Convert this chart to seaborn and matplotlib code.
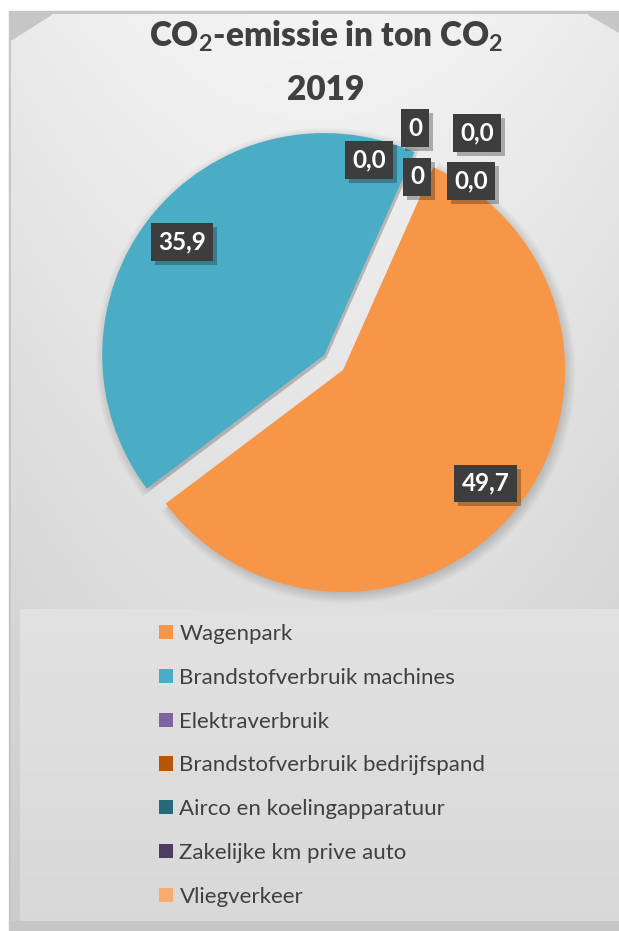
import numpy as np
import matplotlib
matplotlib.use("Agg")
import matplotlib.pyplot as plt
import seaborn as sns
from matplotlib.patches import Rectangle, Polygon
import matplotlib.patheffects as pe

# ---------------- data ----------------
categories = ["Wagenpark", "Brandstofverbruik machines", "Elektraverbruik",
              "Brandstofverbruik bedrijfspand", "Airco en koelingapparatuur",
              "Zakelijke km prive auto", "Vliegverkeer"]
values = [49.7, 35.9, 0.0, 0.0, 0.0, 0.0, 0.0]
value_labels = ["49,7", "35,9", "0,0", "0", "0,0", "0", "0,0"]
title_line1 = "CO$_2$-emissie in ton CO$_2$"
title_line2 = "2019"

# ---------------- style ----------------
colors = ["#F79646", "#4BACC6", "#8064A2", "#B65708", "#276A7C", "#4D3B62", "#F9AC6F"]
sns.set_theme(style="white")
plt.rcParams['font.family'] = ['Lato', 'DejaVu Sans']
plt.rcParams['mathtext.fontset'] = 'custom'
plt.rcParams['mathtext.rm'] = 'Lato:bold'
plt.rcParams['mathtext.bf'] = 'Lato:bold'
plt.rcParams['mathtext.it'] = 'Lato:bold'

W, H = 619, 931
fig = plt.figure(figsize=(W / 100, H / 100), dpi=100)
fig.patch.set_facecolor("white")
ax = fig.add_axes([0, 0, 1, 1])


def Y(y):
    return H - y


# frame + background gradient
ax.add_patch(Rectangle((9, 0), W - 9, H - 11, color="#c6c6c6", zorder=0))
ny, nx = 200, 200
yy = np.linspace(0, 1, ny)[:, None]
xx = np.linspace(-1, 1, nx)[None, :]
lum = 0.955 - 0.12 * yy - 0.035 * xx ** 2
img = np.repeat(lum[:, :, None], 3, axis=2)
ax.imshow(img, extent=(11, W, Y(921), Y(14)), origin='upper', aspect='auto',
          zorder=1, interpolation='bilinear')
ax.add_patch(Polygon([(11, Y(14)), (52, Y(14)), (11, Y(40))], closed=True, color="#c6c6c6", zorder=2))
ax.add_patch(Polygon([(588, Y(14)), (W, Y(14)), (W, Y(32))], closed=True, color="#c6c6c6", zorder=2))

# legend box
lum2 = 0.885 - 0.035 * np.linspace(0, 1, 100)[:, None] + 0 * xx[:, :100]
img2 = np.repeat(lum2[:, :, None], 3, axis=2)
ax.imshow(img2, extent=(20, W, Y(921), Y(609)), origin='upper', aspect='auto',
          zorder=2, interpolation='bilinear')

# pie
center = (343, Y(370))
R = 222
explode = [0, 24, 0, 0, 0, 0, 0]
for k in range(14):
    ax.pie(values, explode=explode, startangle=66, counterclock=False,
           center=(center[0] + 2, center[1] - 3), radius=R - 7 + k * 1.2,
           colors=["black"] * len(values),
           wedgeprops=dict(linewidth=0, alpha=0.015, zorder=3), frame=True)
wedges, _ = ax.pie(values, explode=explode, startangle=66, counterclock=False,
                   center=center, radius=R, colors=colors,
                   wedgeprops=dict(linewidth=0, zorder=4), frame=True)

ax.set_xlim(0, W)
ax.set_ylim(0, H)
ax.set_aspect('equal')
ax.axis('off')

# data labels
zero_label_pos = {2: (369, 160), 3: (415, 128), 4: (477, 133), 5: (417, 177), 6: (471, 181)}
for i, (w, lab) in enumerate(zip(wedges, value_labels)):
    if i in zero_label_pos:
        px, py = zero_label_pos[i]
        py = Y(py)
    else:
        th = np.deg2rad((w.theta1 + w.theta2) / 2)
        px = w.center[0] + 0.82 * R * np.cos(th)
        py = w.center[1] + 0.82 * R * np.sin(th)
    t = ax.text(px, py, lab, ha='center', va='center', color='white', fontsize=17.5,
                fontweight='bold', zorder=10,
                bbox=dict(boxstyle='square,pad=0.3', fc='#3d3d3d', ec='none', lw=0))
    t.get_bbox_patch().set_path_effects([pe.SimplePatchShadow(offset=(3, -3), alpha=0.3), pe.Normal()])

# title
ax.text(326, Y(47), title_line1, ha='center', va='baseline', fontsize=24,
        fontweight='heavy', color='#404040', zorder=10)
ax.text(326, Y(100), title_line2, ha='center', va='baseline', fontsize=24,
        fontweight='heavy', color='#404040', zorder=10)

# legend
leg = ax.legend(wedges, categories, loc='upper left', bbox_to_anchor=(159, Y(624)),
                bbox_transform=ax.transData, frameon=False, fontsize=16,
                labelcolor='#404040', handlelength=0.62, handleheight=0.62,
                handletextpad=0.3, labelspacing=1.07, borderpad=0, borderaxespad=0)
leg.set_zorder(10)

fig.savefig("out.png", dpi=100)
